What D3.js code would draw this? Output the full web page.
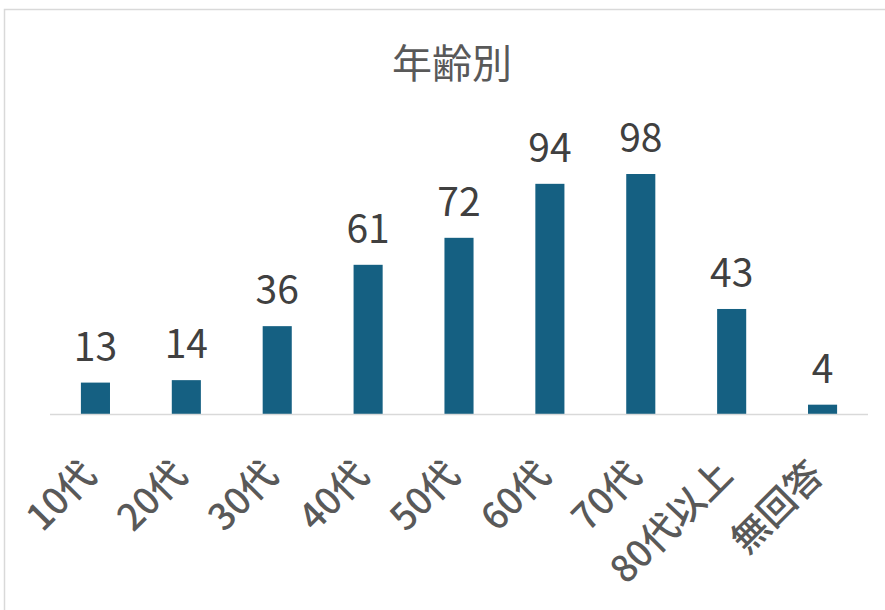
<!DOCTYPE html>
<html lang="ja">
<head>
<meta charset="utf-8">
<title>年齢別</title>
<script src="https://d3js.org/d3.v7.min.js"></script>
<style>
  body { margin: 0; background: #fff; }
  .title { font-family: "Noto Sans CJK JP", sans-serif; font-size: 40px; fill: #595959; }
  .value { font-family: "Noto Sans CJK JP", sans-serif; font-size: 39px; fill: #404040; }
  .cat { font-family: "Noto Sans CJK JP", sans-serif; font-size: 37px; font-weight: 500; fill: #595959; }
</style>
</head>
<body>
<div id="vis"></div>
<script>
const categories = ["10代", "20代", "30代", "40代", "50代", "60代", "70代", "80代以上", "無回答"];
const counts = [13, 14, 36, 61, 72, 94, 98, 43, 4];

const width = 885, height = 610;
const left = 50, right = 868, baseY = 414.5;

const svg = d3.select("#vis").append("svg")
  .attr("width", width)
  .attr("height", height);

// chart frame
svg.append("rect")
  .attr("x", 4.5).attr("y", 9.5)
  .attr("width", width + 10).attr("height", height + 10)
  .attr("fill", "#fff")
  .attr("stroke", "#d9d9d9")
  .attr("stroke-width", 1.5);

const x = d3.scaleBand()
  .domain(categories)
  .range([left, right])
  .paddingInner(0.68)
  .paddingOuter(0.34);

const y = d3.scaleLinear()
  .domain([0, 120])
  .range([baseY, baseY - 120 * 2.454]);

svg.append("text")
  .attr("class", "title")
  .attr("x", 452).attr("y", 78)
  .attr("text-anchor", "middle")
  .text("年齢別");

svg.selectAll(".bar")
  .data(counts)
  .enter().append("rect")
  .attr("class", "bar")
  .attr("x", (d, i) => x(categories[i]))
  .attr("y", d => y(d))
  .attr("width", x.bandwidth())
  .attr("height", d => baseY - y(d))
  .attr("fill", "#156082");

svg.selectAll(".value")
  .data(counts)
  .enter().append("text")
  .attr("class", "value")
  .attr("x", (d, i) => x(categories[i]) + x.bandwidth() / 2)
  .attr("y", d => y(d) - 22)
  .attr("text-anchor", "middle")
  .text(d => d);

// x axis line
svg.append("line")
  .attr("x1", left).attr("x2", right)
  .attr("y1", baseY).attr("y2", baseY)
  .attr("stroke", "#d9d9d9")
  .attr("stroke-width", 1.5);

svg.selectAll(".cat")
  .data(categories)
  .enter().append("text")
  .attr("class", "cat")
  .attr("text-anchor", "end")
  .attr("transform", d => "translate(" + (x(d) + x.bandwidth() / 2 + 3) + ",477) rotate(-45)")
  .text(d => d);
</script>
</body>
</html>
